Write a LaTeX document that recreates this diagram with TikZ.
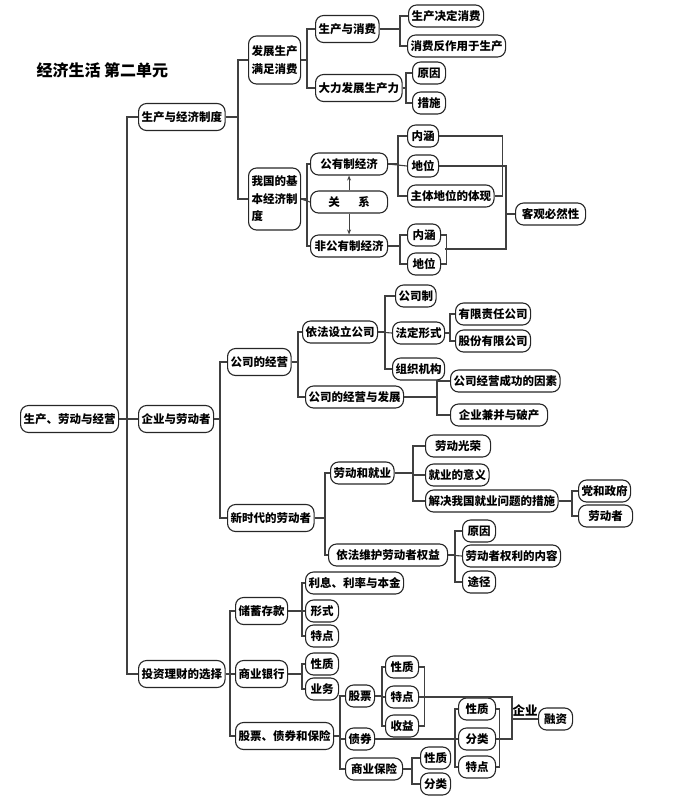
\documentclass[tikz,border=0pt]{standalone}
\usepackage{fontspec}
\setmainfont{Noto Sans CJK SC}
\usepackage{tikz}
\usetikzlibrary{arrows.meta}

\begin{document}
\begin{tikzpicture}[x=1pt, y=-1pt,
    box/.style={draw=black!85, line width=1.1pt, rounded corners=8pt, anchor=west,
        inner xsep=3pt, inner ysep=1pt, minimum height=22pt,
        font=\fontsize{11.5}{14}\selectfont\bfseries},
    big/.style={box, minimum height=27pt},
    link/.style={draw=black!75, line width=1.1pt}]
    \useasboundingbox (0,0) rectangle (685,801);
    \node[anchor=west, font=\fontsize{16}{18}\selectfont\bfseries] (title) at (33,70) {经济生活 第二单元};

    % root and first level
    \node[big] (root) at (20,419) {生产、劳动与经营};
    \node[big] (zj) at (138,117) {生产与经济制度};
    \node[big] (qy) at (138,419) {企业与劳动者};
    \node[big] (tz) at (138,674) {投资理财的选择};

    % production and economic system
    \node[box, align=left, minimum height=48pt, font=\fontsize{11.5}{18}\selectfont\bfseries] (fz) at (248,60) {发展生产\\满足消费};
    \node[box, align=left, minimum height=62pt, font=\fontsize{11.5}{17.5}\selectfont\bfseries] (jj) at (248,199) {我国的基\\本经济制\\度};
    \node[big] (sx) at (315,29) {生产与消费};
    \node[big] (dl) at (315,88) {大力发展生产力};
    \node[box] (jd) at (408,16) {生产决定消费};
    \node[box] (zy) at (407,46) {消费反作用于生产};
    \node[box, minimum width=33pt] (yy1) at (412,73) {原因};
    \node[box, minimum width=33pt] (cs) at (412,103) {措施};
    \node[box, minimum width=77pt] (gy) at (310,164) {公有制经济};
    \node[box, minimum width=77pt] (gx) at (310,202) {关\hspace{1.6em}系};
    \node[box, minimum width=77pt] (fg) at (310,246) {非公有制经济};
    \node[box, minimum width=31pt] (nh1) at (407,136) {内涵};
    \node[box, minimum width=31pt] (dw1) at (407,166) {地位};
    \node[box] (zt) at (407,196) {主体地位的体现};
    \node[box, minimum width=33pt] (nh2) at (407,235) {内涵};
    \node[box, minimum width=33pt] (dw2) at (407,264) {地位};
    \node[box, minimum width=70pt] (kg) at (515,214) {客观必然性};

    % enterprises and workers
    \node[big] (gs) at (227,362) {公司的经营};
    \node[big] (xs) at (227,518) {新时代的劳动者};
    \node[box] (yf) at (302,332) {依法设立公司};
    \node[box] (fzj) at (305,397) {公司的经营与发展};
    \node[box] (gsz) at (395,296) {公司制};
    \node[box] (fd) at (392,333) {法定形式};
    \node[box] (zz) at (392,369) {组织机构};
    \node[box] (yx) at (455,314) {有限责任公司};
    \node[box] (gf) at (455,341) {股份有限公司};
    \node[box] (cg) at (450,381) {公司经营成功的因素};
    \node[box, minimum width=97pt] (jb) at (450,415) {企业兼并与破产};
    \node[box] (ld) at (330,473) {劳动和就业};
    \node[box, minimum width=119pt] (wh) at (328,555) {依法维护劳动者权益};
    \node[box, minimum width=65pt] (gr) at (425,446) {劳动光荣};
    \node[box] (yi) at (425,475) {就业的意义};
    \node[box] (jjcs) at (425,501) {解决我国就业问题的措施};
    \node[box] (dz) at (578,491) {党和政府};
    \node[box, minimum width=54pt] (ldz) at (578,516) {劳动者};
    \node[box, minimum width=33pt] (yy2) at (462,531) {原因};
    \node[box] (ql) at (462,556) {劳动者权利的内容};
    \node[box, minimum width=33pt] (tj) at (462,582) {途径};

    % investment
    \node[big] (cx) at (235,611) {储蓄存款};
    \node[big] (yh) at (235,674) {商业银行};
    \node[big] (gz) at (235,736) {股票、债券和保险};
    \node[box] (lx) at (305,583) {利息、利率与本金};
    \node[box, minimum width=33pt] (xsh) at (305,611) {形式};
    \node[box, minimum width=33pt] (td) at (305,636) {特点};
    \node[box, minimum width=33pt] (xz) at (305,664) {性质};
    \node[box, minimum width=33pt] (yw) at (305,689) {业务};
    \node[box] (gp) at (345,696) {股票};
    \node[box] (zq) at (345,739) {债券};
    \node[box, minimum width=57pt] (bx) at (345,769) {商业保险};
    \node[box, minimum width=33pt] (xz1) at (385,667) {性质};
    \node[box, minimum width=33pt] (td1) at (385,697) {特点};
    \node[box, minimum width=33pt] (sy) at (385,726) {收益};
    \node[box, minimum width=37pt] (xz2) at (458,709) {性质};
    \node[box, minimum width=37pt] (fl2) at (458,739) {分类};
    \node[box, minimum width=37pt] (td2) at (458,767) {特点};
    \node[box, minimum width=30pt] (xz3) at (420,758) {性质};
    \node[box, minimum width=30pt] (fl3) at (420,784) {分类};
    \node[box, minimum width=34pt] (rz) at (538,719) {融资};

    \coordinate (kgj) at (506,249);
    \coordinate (fgm) at (445,249);
    \coordinate (qyb) at (512,739);

    % trunk
    \draw[link] (root.east) -| ([xshift=-11pt]zj.west) -- (zj.west);
    \draw[link] (root.east) -- (qy.west);
    \draw[link] (root.east) -| ([xshift=-11pt]tz.west) -- (tz.west);

    \draw[link] (zj.east) -| ([xshift=-10pt]fz.west) -- (fz.west);
    \draw[link] (zj.east) -| ([xshift=-10pt]jj.west) -- (jj.west);
    \draw[link] (fz.east) -| ([xshift=-8pt]sx.west) -- (sx.west);
    \draw[link] (fz.east) -| ([xshift=-8pt]dl.west) -- (dl.west);
    \draw[link] (sx.east) -| ([xshift=-8pt]jd.west) -- (jd.west);
    \draw[link] (sx.east) -| ([xshift=-7pt]zy.west) -- (zy.west);
    \draw[link] (dl.east) -| ([xshift=-6pt]yy1.west) -- (yy1.west);
    \draw[link] (dl.east) -| ([xshift=-6pt]cs.west) -- (cs.west);
    \draw[link] (jj.east) -| ([xshift=-3pt]gy.west) -- (gy.west);
    \draw[link] (jj.east) -- (gx.west);
    \draw[link] (jj.east) -| ([xshift=-3pt]fg.west) -- (fg.west);
    \draw[link, -{Stealth[length=5pt, width=4pt]}] (gx.north) -- (gy.south);
    \draw[link, -{Stealth[length=5pt, width=4pt]}] (gx.south) -- (fg.north);
    \draw[link] (gy.east) -| ([xshift=-9pt]nh1.west) -- (nh1.west);
    \draw[link] (gy.east) -- (dw1.west);
    \draw[link] (gy.east) -| ([xshift=-9pt]zt.west) -- (zt.west);
    \draw[link] (fg.east) -| ([xshift=-7pt]nh2.west) -- (nh2.west);
    \draw[link] (fg.east) -| ([xshift=-7pt]dw2.west) -- (dw2.west);
    \draw[link] (nh1.east) -| ([xshift=8pt]zt.east) -- (zt.east);
    \draw[link] (dw1.east) -| (kgj) -- (fgm);
    \draw[link] (nh2.east) -| ([xshift=5pt]dw2.east) -- (dw2.east);
    \draw[link] (kg.west) -- (kg.west -| kgj);

    \draw[link] (qy.east) -| ([xshift=-7pt]gs.west) -- (gs.west);
    \draw[link] (qy.east) -| ([xshift=-7pt]xs.west) -- (xs.west);
    \draw[link] (gs.east) -| ([xshift=-4pt]yf.west) -- (yf.west);
    \draw[link] (gs.east) -| ([xshift=-7pt]fzj.west) -- (fzj.west);
    \draw[link] (yf.east) -| ([xshift=-10pt]gsz.west) -- (gsz.west);
    \draw[link] (yf.east) -- (fd.west);
    \draw[link] (yf.east) -| ([xshift=-7pt]zz.west) -- (zz.west);
    \draw[link] (fd.east) -| ([xshift=-5pt]yx.west) -- (yx.west);
    \draw[link] (fd.east) -| ([xshift=-5pt]gf.west) -- (gf.west);
    \draw[link] (fzj.east) -| ([xshift=-13pt]cg.west) -- (cg.west);
    \draw[link] (fzj.east) -| ([xshift=-13pt]jb.west) -- (jb.west);
    \draw[link] (xs.east) -| ([xshift=-5pt]ld.west) -- (ld.west);
    \draw[link] (xs.east) -| ([xshift=-3pt]wh.west) -- (wh.west);
    \draw[link] (ld.east) -| ([xshift=-12pt]gr.west) -- (gr.west);
    \draw[link] (ld.east) -| ([xshift=-12pt]yi.west) -- (yi.west);
    \draw[link] (ld.east) -| ([xshift=-12pt]jjcs.west) -- (jjcs.west);
    \draw[link] (jjcs.east) -| ([xshift=-6pt]dz.west) -- (dz.west);
    \draw[link] (jjcs.east) -| ([xshift=-6pt]ldz.west) -- (ldz.west);
    \draw[link] (wh.east) -| ([xshift=-7pt]yy2.west) -- (yy2.west);
    \draw[link] (wh.east) -- (ql.west);
    \draw[link] (wh.east) -| ([xshift=-7pt]tj.west) -- (tj.west);

    \draw[link] (tz.east) -| ([xshift=-5pt]cx.west) -- (cx.west);
    \draw[link] (tz.east) -- (yh.west);
    \draw[link] (tz.east) -| ([xshift=-5pt]gz.west) -- (gz.west);
    \draw[link] (cx.east) -| ([xshift=-3pt]lx.west) -- (lx.west);
    \draw[link] (cx.east) -- (xsh.west);
    \draw[link] (cx.east) -| ([xshift=-3pt]td.west) -- (td.west);
    \draw[link] (yh.east) -| ([xshift=-3pt]xz.west) -- (xz.west);
    \draw[link] (yh.east) -| ([xshift=-3pt]yw.west) -- (yw.west);
    \draw[link] (gz.east) -| ([xshift=-5pt]gp.west) -- (gp.west);
    \draw[link] (gz.east) -| ([xshift=-5pt]zq.west) -- (zq.west);
    \draw[link] (gz.east) -| ([xshift=-5pt]bx.west) -- (bx.west);
    \draw[link] (gp.east) -| ([xshift=-3pt]xz1.west) -- (xz1.west);
    \draw[link] (gp.east) -| ([xshift=-3pt]td1.west) -- (td1.west);
    \draw[link] (gp.east) -| ([xshift=-3pt]sy.west) -- (sy.west);
    \draw[link] (zq.east) -| ([xshift=-3pt]xz2.west) -- (xz2.west);
    \draw[link] (zq.east) -- (fl2.west);
    \draw[link] (zq.east) -| ([xshift=-3pt]td2.west) -- (td2.west);
    \draw[link] (bx.east) -| ([xshift=-8pt]xz3.west) -- (xz3.west);
    \draw[link] (bx.east) -| ([xshift=-8pt]fl3.west) -- (fl3.west);
    \draw[link] (xz1.east) -| ([xshift=5pt]sy.east) -- (sy.east);
    \draw[link] (xz2.east) -| ([xshift=3pt]td2.east) -- (td2.east);
    \draw[link] (td1.east) -| (qyb) -- (fl2.east);
    \draw[link] (rz.west) -- (rz.west -| qyb) node[midway, above=-1pt, font=\fontsize{12.5}{14}\selectfont\bfseries] {企业};
\end{tikzpicture}
\end{document}
